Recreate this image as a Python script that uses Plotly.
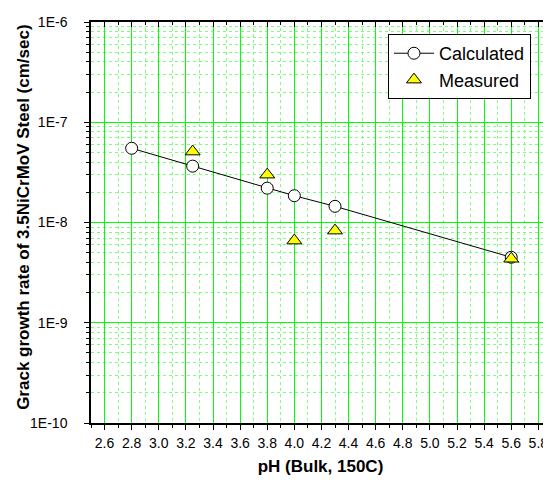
import plotly.graph_objects as go

# Data
calc_ph = [2.8, 3.25, 3.8, 4.0, 4.3, 5.6]
calc_rate = [5.5e-8, 3.65e-8, 2.2e-8, 1.85e-8, 1.45e-8, 4.5e-9]
meas_ph = [3.25, 3.8, 4.0, 4.3, 5.6]
meas_rate = [5.1e-8, 3.0e-8, 6.6e-9, 8.3e-9, 4.35e-9]

y_tickvals = [1e-10, 1e-9, 1e-8, 1e-7, 1e-6]
y_ticktext = ["1E-10", "1E-9", "1E-8", "1E-7", "1E-6"]

x_range = [2.5, 5.886]
y_range_log = [-10, -6]

minor_y = [m * 10.0 ** e for e in range(-10, -6) for m in range(2, 10)]

FONT = "Liberation Sans, Arial, sans-serif"
MAJOR_GRID = "#00ff00"
MINOR_GRID = "#7dff7d"

fig = go.Figure()
fig.add_trace(go.Scatter(
    x=calc_ph, y=calc_rate, mode="lines+markers", name="Calculated",
    line=dict(color="black", width=1),
    marker=dict(symbol="circle", size=12, color="white", line=dict(color="black", width=1)),
))
fig.add_trace(go.Scatter(
    x=meas_ph, y=meas_rate, mode="markers", name="Measured",
    marker=dict(symbol="triangle-up", size=13, color="#ffff00", line=dict(color="black", width=1)),
))

# the page body adds an 8px offset, so the figure is sized to fill the rest of the window
fig.update_layout(
    width=543, height=474,
    margin=dict(l=83, r=1, t=14, b=59, autoexpand=False),
    paper_bgcolor="white", plot_bgcolor="white",
    font=dict(family=FONT, size=14, color="black"),
    showlegend=True,
    legend=dict(
        x=0.647, y=0.97, xanchor="left", yanchor="top",
        bgcolor="white", bordercolor="black", borderwidth=1,
        font=dict(family=FONT, size=18, color="black"),
        tracegroupgap=0, itemwidth=40,
    ),
    xaxis=dict(
        range=x_range, tick0=2.6, dtick=0.2, tickformat=".1f",
        ticks="outside", ticklen=5, tickwidth=1, tickcolor="black",
        showline=True, linecolor="black", linewidth=1.5,
        showgrid=True, gridcolor=MAJOR_GRID, gridwidth=1,
        zeroline=False, automargin=False,
        minor=dict(dtick=0.1, tick0=2.5, ticks="outside", ticklen=3, tickcolor="black",
                   showgrid=True, gridcolor=MINOR_GRID, griddash="dot", gridwidth=1),
        tickfont=dict(size=14),
        ticklabelstandoff=1,
        title=dict(text="<b>pH (Bulk, 150C)</b>", font=dict(size=17), standoff=11),
    ),
    yaxis=dict(
        type="log", range=y_range_log,
        tickmode="array", tickvals=y_tickvals, ticktext=y_ticktext,
        ticks="outside", ticklen=5, tickwidth=1, tickcolor="black",
        showline=True, linecolor="black", linewidth=1.5,
        showgrid=True, gridcolor=MAJOR_GRID, gridwidth=1,
        zeroline=False, automargin=False,
        minor=dict(tickmode="array", tickvals=minor_y, ticks="outside", ticklen=3, tickcolor="black",
                   showgrid=True, gridcolor=MINOR_GRID, griddash="dot", gridwidth=1),
        tickfont=dict(size=14),
        ticklabelstandoff=14,
    ),
    xaxis2=dict(
        overlaying="x", side="top", range=x_range, tick0=2.6, dtick=0.2,
        ticks="inside", ticklen=5, tickcolor="black", showticklabels=False,
        showline=True, linecolor="black", linewidth=1.5, showgrid=False, zeroline=False,
        automargin=False,
        minor=dict(dtick=0.1, tick0=2.5, ticks="inside", ticklen=3, tickcolor="black", showgrid=False),
    ),
    yaxis2=dict(
        overlaying="y", side="right", type="log", range=y_range_log,
        tickmode="array", tickvals=y_tickvals,
        ticks="inside", ticklen=5, tickcolor="black", showticklabels=False,
        showline=True, linecolor="black", linewidth=1.5, showgrid=False, zeroline=False,
        automargin=False,
        minor=dict(tickmode="array", tickvals=minor_y, ticks="inside", ticklen=3, tickcolor="black", showgrid=False),
    ),
    annotations=[dict(
        text="<b>Grack growth rate of 3.5NiCrMoV Steel (cm/sec)</b>",
        xref="paper", yref="paper", x=-0.146, y=0.514,
        xanchor="center", yanchor="middle", textangle=-90, showarrow=False,
        font=dict(family=FONT, size=17, color="black"),
    )],
)

# invisible trace to anchor the mirrored axes
fig.add_trace(go.Scatter(x=calc_ph, y=calc_rate, xaxis="x2", yaxis="y2",
                         mode="markers", marker=dict(opacity=0), showlegend=False, hoverinfo="skip"))

fig.write_html("out.html")
